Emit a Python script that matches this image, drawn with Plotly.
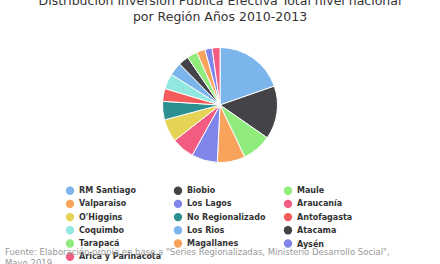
import plotly.graph_objects as go

regions = ["RM Santiago", "Biobio", "Maule", "Valparaiso", "Los Lagos", "Araucanía",
           "O'Higgins", "No Regionalizado", "Antofagasta", "Coquimbo", "Los Rios",
           "Atacama", "Tarapacá", "Magallanes", "Aysén", "Arica y Parinacota"]
shares = [19.7, 15.0, 8.3, 7.8, 7.3, 6.4, 6.4, 5.2, 3.6, 4.3, 3.7, 2.9, 2.9, 2.4, 2.0, 2.2]
palette = ["#7cb5ec", "#434348", "#90ed7d", "#f7a35c", "#8085e9", "#f15c80",
           "#e4d354", "#2b908f", "#f45b5b", "#91e8e1"]
colors = [palette[i % len(palette)] for i in range(len(regions))]

title_text = "Distribución Inversión Pública Efectiva Total nivel nacional<br>por Región Años 2010-2013"
caption_text = "Fuente: Elaboración propia en base a \"Series Regionalizadas, Ministerio Desarrollo Social\",<br>Mayo 2019"

W, H = 440, 264
FONT = "DejaVu Sans"

fig = go.Figure()
fig.add_trace(go.Pie(
    labels=regions, values=shares, sort=False, direction="clockwise", rotation=0,
    marker=dict(colors=colors, line=dict(color="white", width=1)),
    textinfo="none", showlegend=False,
    domain=dict(x=[0, 1], y=[1 - 162.5 / H, 1 - 47.5 / H]),
))

# custom legend (3 columns, row-major)
col_x = [70, 178, 288]
row_y0, row_dy = 190.7, 13.2
shapes = []
annotations = []
for i, (name, c) in enumerate(zip(regions, colors)):
    r, k = divmod(i, 3)
    cx, cy = col_x[k], row_y0 + r * row_dy
    rad = 4.2
    shapes.append(dict(type="circle", xref="paper", yref="paper",
                       x0=(cx - rad) / W, x1=(cx + rad) / W,
                       y0=1 - (cy + rad) / H, y1=1 - (cy - rad) / H,
                       fillcolor=c, line=dict(width=0)))
    annotations.append(dict(text="<b>" + name + "</b>", xref="paper", yref="paper",
                            x=(cx + 7) / W, y=1 - cy / H, xanchor="left", yanchor="middle",
                            showarrow=False, font=dict(family=FONT, size=8, color="#333333")))

annotations.append(dict(text=caption_text, xref="paper", yref="paper", align="left",
                        x=3 / W, y=1 - 245 / H, xanchor="left", yanchor="top",
                        showarrow=False, font=dict(family=FONT, size=8.5, color="#999999")))

fig.update_layout(
    width=W, height=H, margin=dict(l=0, r=0, t=0, b=0),
    paper_bgcolor="white", plot_bgcolor="white",
    title=dict(text=title_text, x=0.5, xanchor="center", xref="paper",
               yref="container", y=1 - 5 / H, yanchor="bottom",
               font=dict(family=FONT, size=12.5, color="#333333")),
    shapes=shapes, annotations=annotations,
)
fig.write_html("out.html", config={"displayModeBar": False},
               post_script="document.body.style.margin='0';document.body.style.overflow='hidden';")
